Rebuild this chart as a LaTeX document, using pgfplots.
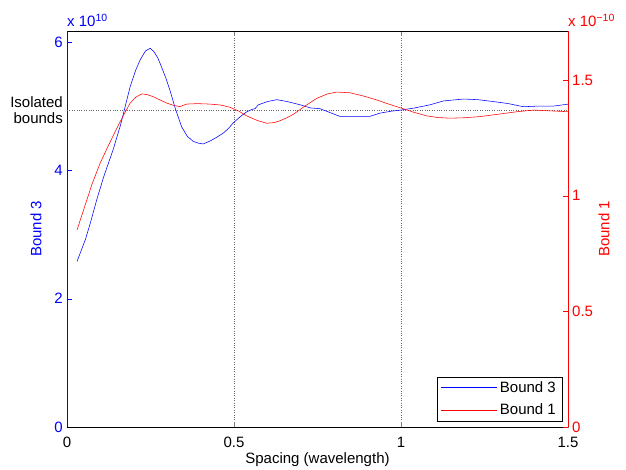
\documentclass[border=0pt]{standalone}
\usepackage{fontspec}
\setmainfont{Liberation Sans}
\usepackage{pgfplots}
\pgfplotsset{compat=1.18}
\pgfplotstableread{
x y
0.03 2.58
0.055 2.92
0.07 3.18
0.089 3.54
0.11 3.90
0.138 4.32
0.16 4.70
0.189 5.30
0.205 5.55
0.219 5.72
0.235 5.86
0.249 5.90
0.26 5.85
0.272 5.75
0.283 5.61
0.295 5.45
0.308 5.25
0.325 4.95
0.343 4.68
0.36 4.53
0.378 4.45
0.395 4.42
0.408 4.41
0.43 4.46
0.45 4.52
0.468 4.58
0.485 4.66
0.498 4.74
0.52 4.84
0.538 4.91
0.555 4.95
0.563 4.96
0.573 5.02
0.6 5.07
0.628 5.10
0.66 5.07
0.698 5.02
0.73 4.97
0.757 4.96
0.787 4.90
0.817 4.84
0.86 4.84
0.907 4.84
0.937 4.89
0.97 4.92
1.002 4.94
1.04 4.97
1.087 5.02
1.127 5.08
1.187 5.11
1.23 5.10
1.277 5.07
1.32 5.04
1.367 4.99
1.41 5.00
1.457 5.00
1.5 5.03
}\boundthree
\pgfplotstableread{
x y
0.03 0.852
0.05 0.94
0.075 1.05
0.099 1.140
0.125 1.22
0.149 1.291
0.17 1.35
0.189 1.400
0.205 1.425
0.224 1.440
0.24 1.437
0.258 1.428
0.28 1.413
0.299 1.400
0.32 1.390
0.338 1.385
0.358 1.396
0.39 1.398
0.428 1.396
0.46 1.392
0.488 1.382
0.515 1.365
0.538 1.345
0.57 1.325
0.598 1.313
0.62 1.316
0.638 1.324
0.66 1.338
0.678 1.352
0.71 1.385
0.748 1.421
0.78 1.440
0.807 1.448
0.847 1.445
0.89 1.430
0.927 1.414
0.965 1.395
1.002 1.378
1.04 1.360
1.077 1.345
1.11 1.338
1.147 1.335
1.19 1.337
1.237 1.342
1.29 1.352
1.347 1.363
1.397 1.370
1.457 1.366
1.5 1.363
}\boundone
\begin{document}
\begin{tikzpicture}[font=\fontsize{15}{16.5}\selectfont]
\useasboundingbox (-67pt,-43pt) rectangle (559pt,427pt);
\pgfplotsset{
  every axis/.append style={
    scale only axis, width=501pt, height=396pt,
    xmin=0, xmax=1.5, clip=false,
    tick align=inside, major tick length=5pt,
    /pgf/number format/assume math mode=true,
    tick label style={font=\fontsize{15}{18}\selectfont, inner sep=0pt},
    label style={font=\fontsize{15}{18}\selectfont},
    scaled ticks=false,
    separate axis lines,
  }
}
\begin{axis}[
  axis x line*=box, axis y line*=left,
  ymin=0, ymax=6.17,
  xtick={0,0.5,1,1.5}, xticklabels={0,0.5,1,1.5},
  ytick={0,2,4,6},
  xtick pos=both,
  x tick label style={yshift=-9.7pt},
  y tick label style={blue, xshift=-4pt},
  y axis line style={blue},
  ytick style={blue},
  x axis line style={black},
  xmajorgrids, grid style={black!60, dotted},
  xlabel={Spacing (wavelength)},
  every axis x label/.style={at={(axis description cs:0.5,-0.083)}, anchor=center},
  ylabel={Bound 3},
  every axis y label/.style={at={(axis description cs:-0.062,0.5)}, anchor=center, rotate=90, blue},
]
\addplot[black!60, dotted, thin, forget plot] coordinates {(0,4.94) (1.5,4.94)};
\addplot[blue, line width=0.55pt, no marks] table[x=x,y=y] {\boundthree};
\node[anchor=east, align=right, inner sep=0pt, xshift=-4pt] at (axis cs:0,4.94) {Isolated\\bounds};
\node[anchor=base west, inner sep=0pt, blue, yshift=4pt] at (rel axis cs:0,1) {x 10\textsuperscript{10}};
\end{axis}
\begin{axis}[
  axis x line=none, axis y line*=right,
  ymin=0, ymax=1.712,
  ytick={0,0.5,1,1.5},
  yticklabels={0,0.5,1,1.5},
  y tick label style={red, xshift=4pt},
  y axis line style={red},
  ytick style={red},
  ylabel={Bound 1},
  every axis y label/.style={at={(axis description cs:1.072,0.5)}, anchor=center, rotate=90, red},
  legend style={at={(rel axis cs:1,0)}, anchor=south east, xshift=-6pt, yshift=6pt,
    draw=black, fill=white, font=\fontsize{15}{18}\selectfont, inner xsep=3pt, inner ysep=2pt, row sep=5pt,
    nodes={inner xsep=3pt, inner ysep=2.5pt}},
  legend cell align=left,
  legend image code/.code={\path (-6pt,0pt) -- (50pt,0pt); \draw[#1] (0pt,0pt) -- (47pt,0pt);},
]
\addlegendimage{blue, line width=0.55pt}
\addlegendentry{Bound 3}
\addplot[red, line width=0.55pt, no marks] table[x=x,y=y] {\boundone};
\addlegendentry{Bound 1}
\node[anchor=base west, inner sep=0pt, red, yshift=4pt] at (rel axis cs:1,1) {x 10\textsuperscript{−10}};
\end{axis}
\end{tikzpicture}
\end{document}
